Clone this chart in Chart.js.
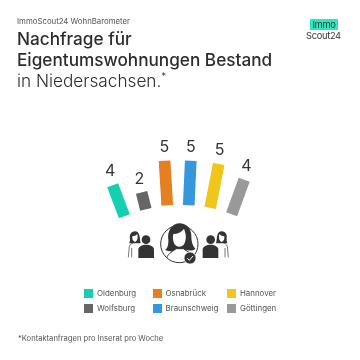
<!DOCTYPE html>
<html lang="de">
<head>
<meta charset="utf-8">
<style>
  html, body { margin: 0; padding: 0; background: #fff; }
  #page { position: relative; width: 360px; height: 360px; overflow: hidden; font-family: Inter, sans-serif; color: #333; }
  #page > * { position: absolute; }
  #chart { left: 0; top: 0; }
  .kicker { left: 17px; top: 15px; font-size: 7.8px; line-height: 12px; color: #555; white-space: nowrap; }
  .head { left: 17px; top: 28px; font-size: 17.2px; line-height: 21px; font-weight: 500; white-space: nowrap; color: #2d2d2d; }
  .head span { font-weight: 300; }
  .head sup { font-size: 10px; line-height: 0; font-weight: 300; }
  .logo { left: 306px; top: 19px; font-size: 9.3px; line-height: 11px; letter-spacing: -0.3px; text-align: center; color: #333; }
  .logo b { display: block; font-weight: 400; background: #2ce8c0; width: 28px; margin-left: 4px; }
  .foot { left: 18px; top: 334px; font-size: 7.6px; line-height: 10px; color: #555; white-space: nowrap; }
  .key { font-size: 7.9px; line-height: 9px; color: #555; white-space: nowrap; }
  .key i { position: absolute; left: -13px; top: 0; width: 9px; height: 9px; }
</style>
</head>
<body>
<div id="page">
  <canvas id="chart" width="360" height="360"></canvas>
  <div class="kicker">ImmoScout24 WohnBarometer</div>
  <div class="head">Nachfrage für<br>Eigentumswohnungen Bestand<br><span>in Niedersachsen.<sup>*</sup></span></div>
  <div class="logo"><b>Immo</b>Scout24</div>
  <svg style="left:120px;top:218px" width="120" height="50" viewBox="0 0 360 150" fill="#333">
    <defs>
      <g id="pair">
        <path d="M45 40C32 40 28 52 30 62 31 70 28 74 27 76L62 76C60 70 60 60 58 52 56 44 52 40 45 40z"/>
        <path d="M37 55C44 55 50 50 52 48 54 60 53 68 45 72 38 70 36 62 37 55z" fill="#fff"/>
        <path d="M25 118L28 85C30 78 38 76 40 74M35 90L35 118" fill="none" stroke="#333" stroke-width="2"/>
        <circle cx="78" cy="65" r="13"/>
        <path d="M55 120L55 95C55 85 68 80 78 80 90 80 102 85 102 95L102 120z"/>
      </g>
    </defs>
    <use href="#pair"/>
    <use href="#pair" transform="translate(350,0) scale(-1,1)"/>
    <circle cx="178" cy="78" r="56" fill="none" stroke="#333" stroke-width="3"/>
    <path d="M178 16C150 18 142 45 145 65 146 85 140 92 135 96 150 102 165 100 172 95L195 95C205 98 218 100 226 92 216 82 214 66 214 52 213 32 200 16 178 16z"/>
    <path d="M160 48C172 48 185 42 192 32 198 48 200 60 194 75 188 90 168 90 162 75 158 65 158 55 160 48z" fill="#fff"/>
    <path d="M140 120C145 104 160 100 168 92L190 92C200 100 215 104 220 118" fill="#fff" stroke="#333" stroke-width="3"/>
    <circle cx="210" cy="120" r="18" stroke="#fff" stroke-width="2"/>
    <path d="M202 121L208 127 219 114" fill="none" stroke="#fff" stroke-width="3"/>
  </svg>
  <div class="foot">*Kontaktanfragen pro Inserat pro Woche</div>
</div>
<script src="https://cdn.jsdelivr.net/npm/chart.js@4"></script>
<script>
const cities = ['Oldenburg', 'Wolfsburg', 'Osnabrück', 'Braunschweig', 'Hannover', 'Göttingen'];
const contacts = [3.7, 1.9, 5, 5, 5, 4.1];
const shownLabels = ['4', '2', '5', '5', '5', '4'];
const cityColors = ['#14cfb0', '#666666', '#e67e22', '#3498db', '#f1c61c', '#999999'];

// fan layout: tilt in degrees and how far each bar sits below the top of the arc
const tilt = [-20.6, -14, -3.5, 2.6, 11, 20];
const drop = [11, 4, 0, 0, 2.5, 9];
const legendX = [97, 97, 165.5, 165.5, 240, 240];
const legendY = [289, 303.5, 289, 303.5, 289, 303.5];

// bar controller that draws each bar turned around its foot
class FanBarController extends Chart.BarController {
  draw() {
    const ctx = this.chart.ctx;
    this.getMeta().data.forEach((bar, i) => {
      ctx.save();
      ctx.translate(bar.x, bar.base + drop[i]);
      ctx.rotate(tilt[i] * Math.PI / 180);
      ctx.translate(-bar.x, -bar.base);
      bar.draw(ctx);
      ctx.restore();
    });
  }
}
FanBarController.id = 'fanBar';
FanBarController.defaults = Chart.BarController.defaults;
Chart.register(FanBarController);

// the numbers lean a bit less than the bars
const fanLabels = {
  id: 'fanLabels',
  afterDatasetsDraw(chart) {
    const ctx = chart.ctx;
    ctx.save();
    ctx.font = '400 16px Inter, sans-serif';
    ctx.fillStyle = '#333';
    ctx.textAlign = 'center';
    ctx.textBaseline = 'middle';
    chart.getDatasetMeta(0).data.forEach((bar, i) => {
      const len = bar.base - bar.y + 14;
      const a = tilt[i] * 0.85 * Math.PI / 180;
      ctx.fillText(shownLabels[i], bar.x + Math.sin(a) * len, bar.base + drop[i] - Math.cos(a) * len);
    });
    ctx.restore();
  }
};

new Chart(document.getElementById('chart'), {
  type: 'fanBar',
  data: {
    labels: cities,
    datasets: [{
      data: contacts,
      backgroundColor: cityColors,
      barThickness: 11,
      clip: false
    }]
  },
  options: {
    responsive: false,
    animation: false,
    layout: { padding: { left: 113.5, right: 117.5, top: 161, bottom: 155 } },
    plugins: { legend: { display: false }, tooltip: { enabled: false } },
    scales: {
      x: { display: false },
      y: { display: false, min: 0, max: 5 }
    }
  },
  plugins: [fanLabels]
});

// legend below the fan, same order as the bars
const page = document.getElementById('page');
cities.forEach((name, i) => {
  const key = document.createElement('div');
  key.className = 'key';
  key.style.left = legendX[i] + 'px';
  key.style.top = legendY[i] + 'px';
  key.innerHTML = '<i style="background:' + cityColors[i] + '"></i>' + name;
  page.appendChild(key);
});
</script>
</body>
</html>
